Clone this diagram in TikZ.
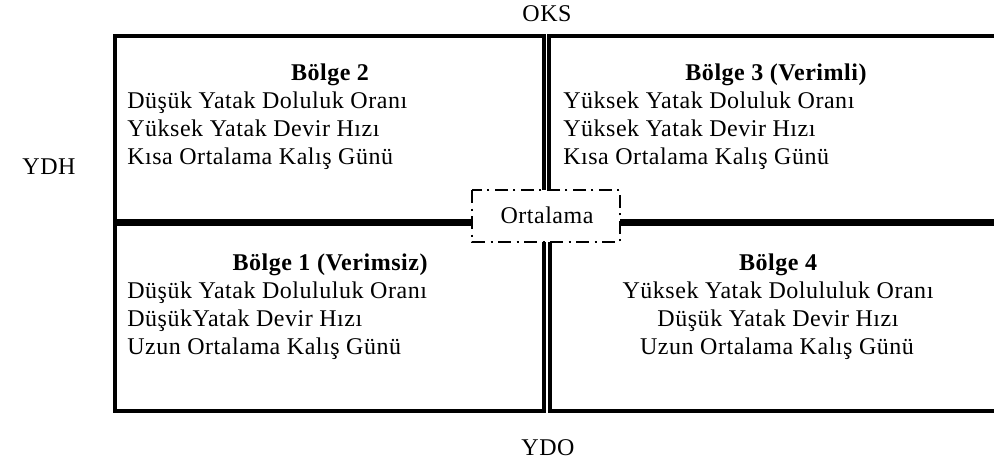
\documentclass[tikz,border=0pt]{standalone}
\usepackage{fontspec}
\setmainfont[LetterSpace=2.2]{Liberation Serif}
\begin{document}
\begin{tikzpicture}[x=0.75pt,y=-0.75pt,
  quad/.style={draw=black,line width=2.3pt},
  txt/.style={inner sep=0pt,font=\fontsize{18}{22}\selectfont},
  head/.style={txt,font=\fontsize{18}{22}\selectfont\bfseries},
  avgbox/.style={draw=black,fill=white,line width=1.6pt,
    dash pattern=on 10pt off 4pt on 1.5pt off 4pt}]
\useasboundingbox (0,0) rectangle (994,465);
\clip (0,0) rectangle (994,465);

% four quadrants
\draw[quad] (115,36) rectangle (544,221);
\draw[quad] (549,36) rectangle (1010,221);
\draw[quad] (115,224) rectangle (544,411);
\draw[quad] (550,224) rectangle (1010,411);

% axis labels
\node[txt,anchor=base] (oks) at (547,21) {OKS};
\node[txt,anchor=base] (ydh) at (49,174) {YDH};
\node[txt,anchor=base] (ydo) at (548,455) {YDO};

% Bölge 2
\node[head,anchor=base] (b2) at (330,80) {Bölge 2};
\node[txt,anchor=base west] (b2a) at (127,108) {Düşük Yatak Doluluk Oranı};
\node[txt,anchor=base west] (b2b) at (127,136) {Yüksek Yatak Devir Hızı};
\node[txt,anchor=base west] (b2c) at (127,164) {Kısa Ortalama Kalış Günü};

% Bölge 3
\node[head,anchor=base] (b3) at (776,80) {Bölge 3 (Verimli)};
\node[txt,anchor=base west] (b3a) at (563,108) {Yüksek Yatak Doluluk Oranı};
\node[txt,anchor=base west] (b3b) at (563,136) {Yüksek Yatak Devir Hızı};
\node[txt,anchor=base west] (b3c) at (563,164) {Kısa Ortalama Kalış Günü};

% Bölge 1
\node[head,anchor=base] (b1) at (330,270) {Bölge 1 (Verimsiz)};
\node[txt,anchor=base west] (b1a) at (127,298) {Düşük Yatak Dolululuk Oranı};
\node[txt,anchor=base west] (b1b) at (127,326) {DüşükYatak Devir Hızı};
\node[txt,anchor=base west] (b1c) at (127,354) {Uzun Ortalama Kalış Günü};

% Bölge 4
\node[head,anchor=base] (b4) at (778,270) {Bölge 4};
\node[txt,anchor=base] (b4a) at (778,298) {Yüksek Yatak Dolululuk Oranı};
\node[txt,anchor=base] (b4b) at (778,326) {Düşük Yatak Devir Hızı};
\node[txt,anchor=base] (b4c) at (777,354) {Uzun Ortalama Kalış Günü};

% centre marker
\draw[avgbox] (472,190) rectangle (620,242);
\node[txt,anchor=base] (ort) at (547,223) {Ortalama};
\end{tikzpicture}
\end{document}
